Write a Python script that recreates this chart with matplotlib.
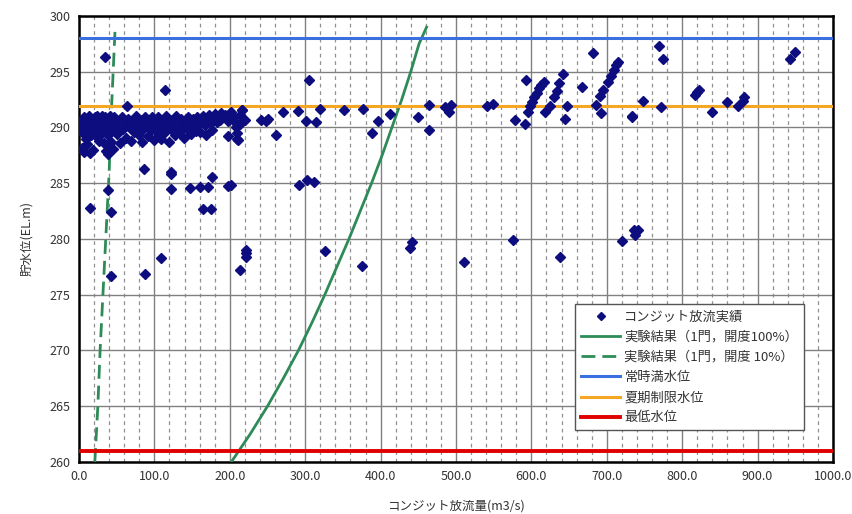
import matplotlib
matplotlib.use("Agg")
import matplotlib.pyplot as plt
from matplotlib.ticker import MultipleLocator, FormatStrFormatter

plt.rcParams['font.family'] = ['Noto Sans CJK JP', 'DejaVu Sans']

# ---- data ----
obs_q = [
    # dense cluster 0-220
    1, 2, 3, 4, 5, 6, 7, 8, 9, 10, 11, 12, 13, 14, 15, 16, 17, 18, 19, 20,
    21, 22, 23, 24, 25, 26, 27, 28, 29, 30, 31, 32, 33, 34, 35, 36, 37, 38, 39, 40,
    41, 42, 43, 44, 45,
    47, 49, 51, 53, 55, 57, 59, 61, 63, 65, 67, 69, 71, 73, 75, 77, 79, 81, 83, 85,
    87, 89, 91, 93, 95, 97, 99,
    101, 103, 105, 107, 109, 111, 113, 115, 117, 119, 121, 123, 125, 127, 129, 131,
    133, 135, 137, 139, 141, 143, 145, 147, 149, 151, 153, 155, 157, 159,
    161, 163, 165, 167, 169, 171, 173, 175, 177, 179, 181, 183, 185, 187, 189, 191,
    194, 197, 198, 200, 202, 205, 207, 208, 209, 210, 211, 213, 216,
    # isolated low points
    34, 114, 64, 86, 122, 122, 176, 39, 122, 147, 161, 171, 198, 202, 292, 303, 312,
    15, 43, 165, 175, 326, 375, 109, 88, 42, 221, 221, 221, 214,
    439, 441, 511, 575, 638, 720, 736, 742, 738,
    # upper scattered points
    305, 216, 220, 214, 242, 248, 251, 261, 271, 290, 301, 315, 320, 352, 377, 388,
    396, 412, 450, 464, 464, 485, 493, 491,
    541, 549, 578, 592, 593,
    595, 598, 601, 604, 607, 610, 613, 617,
    618, 625, 630, 634, 637, 642, 647, 645, 667, 682,
    686, 691, 695, 701, 705, 709, 712, 715, 692, 733,
    769, 775, 734, 748, 772, 817, 820, 822, 839, 860, 874, 880, 882, 943, 949,
]
obs_h = [
    290.2, 289.8, 290.6, 288.2, 289.5, 290.9, 287.8, 290.3, 289.0, 290.7, 288.5, 289.9,
    291.0, 287.7, 290.4, 289.3, 290.8, 288.0, 290.1, 289.6,
    290.9, 290.3, 289.2, 291.0, 290.5, 288.8, 289.8, 290.8, 290.2, 289.5, 291.0, 290.6,
    288.6, 289.9, 290.9, 287.9, 288.4, 289.3, 287.6, 290.2,
    291.0, 288.7, 289.7, 290.5, 288.1,
    290.9, 290.1, 289.4, 290.6, 288.6, 290.9, 289.9, 290.4, 289.1, 290.8, 290.0, 288.8,
    290.6, 289.6, 291.0, 290.2, 289.3, 290.7, 288.7, 289.9,
    290.9, 290.3, 289.2, 290.6, 289.8, 290.9, 288.9,
    290.4, 289.6, 290.9, 290.1, 289.0, 290.6, 289.5, 291.0, 290.2, 288.7, 290.7, 289.8,
    290.4, 289.3, 291.0, 290.1,
    289.6, 290.8, 290.3, 289.1, 290.6, 289.9, 290.9, 290.4, 289.4, 290.8, 290.1, 289.7,
    290.9, 290.3,
    289.6, 290.7, 291.0, 290.2, 289.3, 290.6, 291.1, 290.4, 289.8, 290.9, 291.2, 290.5,
    291.0, 290.7, 291.3, 290.9,
    291.1, 290.6, 289.2, 291.3, 291.4, 290.9, 290.5, 290.0, 289.5, 289.0, 288.9, 291.1,
    291.6,
    # isolated low points
    296.3, 293.4, 291.9, 286.3, 286.0, 285.8, 285.6, 284.4, 284.5, 284.6, 284.7, 284.7,
    284.75, 284.8, 284.8, 285.3, 285.1,
    282.8, 282.4, 282.7, 282.7, 278.9, 277.6, 278.3, 276.9, 276.7, 278.7, 278.4, 279.0,
    277.2,
    279.2, 279.7, 277.9, 279.9, 278.4, 279.8, 280.8, 280.8, 280.4,
    # upper scattered points
    294.3, 291.6, 290.7, 290.3, 290.7, 290.6, 290.8, 289.3, 291.4, 291.5, 290.6, 290.5,
    291.7, 291.6, 291.7, 289.5,
    290.6, 291.2, 290.9, 292.0, 289.8, 291.8, 292.0, 291.4,
    291.9, 292.1, 290.7, 290.3, 294.3,
    291.4, 291.9, 292.3, 292.7, 293.1, 293.5, 293.8, 294.1,
    291.4, 291.9, 292.7, 293.3, 294.0, 294.8, 291.9, 290.8, 293.6, 296.7,
    292.0, 292.8, 293.4, 294.1, 294.6, 295.2, 295.6, 295.9, 291.3, 290.9,
    297.3, 296.1, 291.0, 292.4, 291.8, 292.9, 293.2, 293.4, 291.4, 292.3, 291.9, 292.4,
    292.7, 296.1, 296.8,
]

exp100_q = [202, 227, 250, 271, 291, 309, 326, 342, 358, 373, 388, 402, 415, 428, 440, 451, 461]
exp100_h = [260, 262.5, 265, 267.5, 270, 272.5, 275, 277.5, 280, 282.5, 285, 287.5, 290, 292.5, 295, 297.5, 299]

exp10_q = [21, 25, 28, 31, 34, 37, 40, 42, 44, 46, 48]
exp10_h = [260, 265, 270, 274, 278, 282, 286, 290, 293, 296, 299]

normal_level = 298.0
summer_level = 291.9
min_level = 261.0

labels = ['コンジット放流実績', '実験結果（1門，開度100%）', '実験結果（1門，開度 10%）',
          '常時満水位', '夏期制限水位', '最低水位']

# ---- figure ----
fig = plt.figure(figsize=(8.52, 5.14), dpi=100)
ax = fig.add_axes([0.0927, 0.1012, 0.885, 0.8677])

ax.set_xlim(0, 1000)
ax.set_ylim(260, 300)
ax.xaxis.set_major_locator(MultipleLocator(100))
ax.xaxis.set_minor_locator(MultipleLocator(20))
ax.yaxis.set_major_locator(MultipleLocator(5))
ax.xaxis.set_major_formatter(FormatStrFormatter('%.1f'))

ax.grid(which='major', axis='both', color='#808080', lw=1.0, zorder=0)
ax.grid(which='minor', axis='x', color='#909090', lw=0.9, ls=(0, (3, 3)), zorder=0)
ax.tick_params(which='both', length=0, labelsize=9, colors='#333333', pad=6)
ax.set_axisbelow(True)

for s in ax.spines.values():
    s.set_linewidth(1.8)
    s.set_color('black')

l2, = ax.plot(exp100_q, exp100_h, color='#2e8b57', lw=2, zorder=3)
l3, = ax.plot(exp10_q, exp10_h, color='#2e8b57', lw=2, ls=(0, (5, 2.5)), zorder=3)
l4 = ax.axhline(normal_level, color='#3a6fe0', lw=2.2, zorder=3)
l5 = ax.axhline(summer_level, color='#f5a623', lw=2.2, zorder=3)
l6 = ax.axhline(min_level, color='#e00000', lw=2.8, zorder=3)
l1, = ax.plot(obs_q, obs_h, ls='none', marker='D', ms=5, color='#0d0d80', zorder=4)

leg = ax.legend([l1, l2, l3, l4, l5, l6], labels, loc='lower left',
                bbox_to_anchor=(0.649, 0.056), fontsize=9.5, frameon=True,
                fancybox=False, edgecolor='#555555', framealpha=1,
                handlelength=3.0, handletextpad=0.3, borderpad=0.45,
                labelspacing=0.55, markerscale=0.9)
leg.get_frame().set_linewidth(1.0)
for t in leg.get_texts():
    t.set_color('#333333')

ax.set_xlabel('コンジット放流量(m3/s)', fontsize=9, color='#333333', labelpad=12)
ax.set_ylabel('貯水位(EL.m)', fontsize=9, color='#333333', labelpad=12)

fig.savefig('out.png', dpi=100)
